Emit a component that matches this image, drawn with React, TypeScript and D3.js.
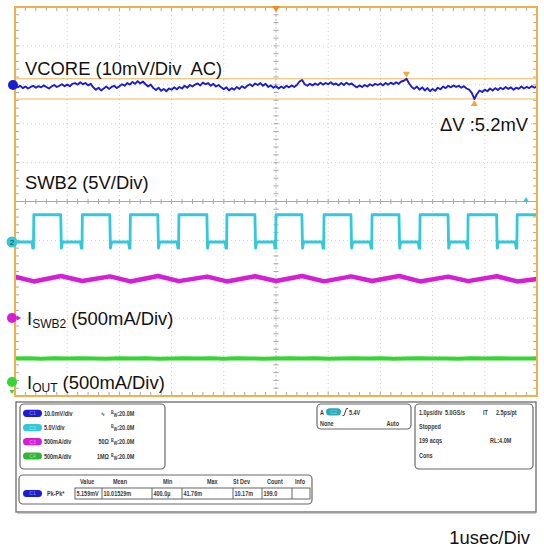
import React from "react";
import * as d3 from "d3";

const W = 544;
const H = 550;

// VCORE ripple (AC coupled, mV), one sample every 50 ns from -5 µs to +5 µs
const vcoreStep = 0.05;
const vcoreMv = [
  -0.3, -0.6, -0.2, -0.8, -0.4, -0.9, -0.5, -0.2, -0.7, -0.3,
  -0.6, -0.1, -0.5, -0.9, -0.4, 0.0, -0.5, -0.2, 0.2, -0.3,
  0.1, -0.3, 0.3, 0.5, 0.1, 0.7, 0.2, 0.5, -0.1, 0.3,
  -0.6, -1.2, -0.7, -1.4, -0.9, -0.4, -1.0, -0.5, -0.2, -0.8,
  -0.3, 0.2, -0.2, 0.5, 0.1, 0.8, 0.3, 1.0, 0.4, 0.9,
  0.2, -0.4, 0.1, -0.8, -1.3, -0.7, -1.5, -1.0, -1.6, -0.9,
  -1.2, -0.6, -1.1, -0.5, -0.9, -0.2, -0.7, 0.0, -0.4, 0.1,
  0.4, -0.1, 0.6, 0.2, 0.5, -0.2, 0.3, -0.4, 0.0, -0.6,
  -1.1, -0.6, -1.4, -0.8, -1.2, -0.5, -1.0, -0.3, -0.8, -0.2,
  0.2, -0.3, 0.4, 0.0, 0.5, -0.2, 0.3, -0.5, -0.1, -0.7,
  -0.3, -0.9, -0.4, -0.8, -0.2, -0.6, -0.1, -0.5, 0.0, 0.9,
  1.3, 0.2, -0.2, 0.3, -0.1, 0.4, 0.0, 0.6, 0.1, 0.5,
  0.2, 0.7, 0.1, 0.4, -0.1, 0.5, 0.0, 0.6, 0.1, 0.4,
  -0.2, -0.6, -0.1, -0.5, 0.0, -0.4, 0.2, -0.2, 0.3, 0.0,
  0.4, -0.1, 0.5, 0.1, 0.6, 0.2, 0.7, 0.3, 0.9, 1.1,
  1.6, 0.4, -0.5, -1.0, -0.4, -1.2, -0.6, -1.4, -0.8, -1.6,
  -1.0, -1.5, -0.7, -1.1, -0.4, -0.8, -0.2, -0.6, -0.1, -0.5,
  -0.2, -0.7, -0.3, -0.9, -1.2, -2.0, -3.6, -2.3, -1.4, -1.8,
  -1.2, -1.6, -0.9, -1.4, -0.8, -1.3, -0.7, -1.1, -0.5, -1.0,
  -0.6, -1.2, -0.7, -1.0, -0.4, -0.9, -0.5, -0.8, -0.3, -0.7,
  -0.4,
];

// SWB2 switch node: edge times (µs) and levels (V)
const swRise = [-4.64, -3.71, -2.79, -1.86, -0.94, 0.0, 0.92, 1.84, 2.76, 3.68, 4.62];
const swFall = [-4.12, -3.18, -2.26, -1.32, -0.4, 0.5, 1.44, 2.36, 3.3, 4.23];
const swHigh = 3.5;
const swLow = 0;
const swDip = -0.8;
const trigLevel = 5.4;

// ISWB2 inductor current (A): valleys at the rising edges, peaks at the falling edges
const iswStart = 0.53;
const iswEnd = 0.5;
const iswValley = [0.47, 0.475, 0.47, 0.474, 0.47, 0.475, 0.471, 0.475, 0.47, 0.474, 0.47];
const iswPeak = [0.54, 0.535, 0.54, 0.532, 0.536, 0.54, 0.535, 0.54, 0.532, 0.536];

// IOUT (A), one sample every 250 ns
const ioutStep = 0.25;
const ioutA = [
  0.302, 0.305, 0.3, 0.304, 0.301, 0.306, 0.302, 0.299, 0.304, 0.301,
  0.305, 0.3, 0.303, 0.306, 0.301, 0.304, 0.3, 0.305, 0.302, 0.299,
  0.303, 0.306, 0.301, 0.304, 0.3, 0.303, 0.305, 0.301, 0.304, 0.299,
  0.302, 0.305, 0.301, 0.303, 0.3, 0.304, 0.302, 0.306, 0.301, 0.303,
  0.302,
];

// Readout panel texts
const chanIds = ["C1", "C2", "C3", "C4"];
const chanScales = ["10.0mV/div", "5.0V/div", "500mA/div", "500mA/div"];
const chanTerm = ["", "", "50Ω", "1MΩ"];
const chanBw = ["20.0M", "20.0M", "20.0M", "20.0M"];
const measHeaders = ["Value", "Mean", "Min", "Max", "St Dev", "Count", "Info"];
const measValues = ["5.159mV", "10.01529m", "400.0µ", "41.76m", "10.17m", "199.0", ""];
const horizLines = [
  ["1.0µs/div", "5.0GS/s", "IT", "2.5ps/pt"],
  ["Stopped"],
  ["199 acqs", "RL:4.0M"],
  ["Cons"],
];

const C_BLUE = "#1c1cd2";
const C_CYAN = "#33c9d8";
const C_MAG = "#d41fd4";
const C_GREEN = "#33d633";
const C_ORANGE = "#f0b04c";
const C_CURSOR = "#f2a93c";
const SANS = "'Liberation Sans', Arial, Helvetica, sans-serif";

// Condensed bold readout text
function T(props: { x: number; y: number; anchor?: "start" | "end" | "middle"; size?: number; children?: React.ReactNode }) {
  const { x, y, anchor = "start", size = 7.3, children } = props;
  return (
    <text
      transform={`translate(${x},${y}) scale(0.75,1)`}
      textAnchor={anchor}
      fontFamily={SANS}
      fontSize={size}
      fontWeight={700}
      fill="#3a3a3a"
    >
      {children}
    </text>
  );
}

export default function App() {
  const left = 15;
  const right = 537;
  const top = 7;
  const bottom = 396;
  const x = d3.scaleLinear().domain([-5, 5]).range([left, right]);
  const divY = d3.scaleLinear().domain([-5, 5]).range([bottom, top]);
  const pxPerDiv = (bottom - top) / 10;
  const chan = (zeroY: number, perDiv: number) =>
    d3.scaleLinear().domain([0, perDiv]).range([zeroY, zeroY - pxPerDiv]);
  const y1 = chan(85, 10);
  const y2 = chan(242, 5);
  const y3 = chan(318, 0.5);
  const y4 = chan(382, 0.5);

  const line = (ys: d3.ScaleLinear<number, number>) =>
    d3
      .line<[number, number]>()
      .x((d) => x(d[0]))
      .y((d) => ys(d[1]));

  const vcorePts: [number, number][] = vcoreMv.map((v, i) => [-5 + i * vcoreStep, v]);
  const vMax = d3.max(vcoreMv) as number;
  const vMin = d3.min(vcoreMv) as number;
  const iMax = vcoreMv.indexOf(vMax);
  const iMin = vcoreMv.indexOf(vMin);
  const deltaV = (vMax - vMin).toFixed(1);

  const swPts: [number, number][] = [[-5, swLow]];
  swRise.forEach((tr, i) => {
    swPts.push([tr - 0.035, swLow], [tr - 0.018, swDip], [tr - 0.006, swDip], [tr, swHigh]);
    const tf = swFall[i];
    if (tf !== undefined) {
      swPts.push([tf - 0.004, swHigh], [tf + 0.008, swDip], [tf + 0.03, swLow]);
    } else {
      swPts.push([5, swHigh]);
    }
  });

  const iswPts: [number, number][] = [[-5, iswStart]];
  swRise.forEach((tr, i) => {
    iswPts.push([tr, iswValley[i]]);
    if (swFall[i] !== undefined) iswPts.push([swFall[i], iswPeak[i]]);
  });
  iswPts.push([5, iswEnd]);

  const ioutPts: [number, number][] = ioutA.map((v, i) => [-5 + i * ioutStep, v]);

  const minorX = d3.range(-5, 5.0001, 0.2);
  const minorY = d3.range(-5, 5.0001, 0.2);
  const majors = d3.range(-4, 5, 1);
  const cx = x(0);
  const cy = divY(0);

  const pill = (px: number, py: number, color: string, id: string, w = 19) => (
    <g>
      <rect x={px} y={py - 3.6} width={w} height={7.2} rx={3.6} fill={color} />
      <text x={px + w / 2} y={py + 1.8} textAnchor="middle" fontFamily={SANS} fontSize={5} fill="#ffffff" opacity={0.5}>
        {id}
      </text>
    </g>
  );

  const chanColors = [C_BLUE, C_CYAN, C_MAG, "#2fb82f"];
  const rowY = [413.3, 427.7, 441.7, 456];
  const cellEdges = [75, 102, 152, 182, 233, 262, 292, 310];
  const headX = [80, 113, 163, 207, 233, 267, 295];

  return (
    <svg width={W} height={H} style={{ position: "absolute", left: 0, top: 0, background: "#fff" }}>
      <rect width={W} height={H} fill="#fff" />

      {/* graticule dotted division lines */}
      <g stroke="#cfcfcf" strokeWidth={1} strokeDasharray="1 3">
        {majors.map((d) => (
          <line key={"v" + d} x1={x(d)} x2={x(d)} y1={top} y2={bottom} />
        ))}
        {majors.map((d) => (
          <line key={"h" + d} x1={left} x2={right} y1={divY(d)} y2={divY(d)} />
        ))}
      </g>
      {/* centre cross with minor ticks */}
      <g stroke="#a8a8a8" strokeWidth={1}>
        <line x1={left} x2={right} y1={cy} y2={cy} />
        <line x1={cx} x2={cx} y1={top} y2={bottom} stroke="#cfcfcf" strokeDasharray="2 2" />
        {minorX.map((t) => (
          <line key={"cx" + t} x1={x(t)} x2={x(t)} y1={cy - 2.5} y2={cy + 2.5} />
        ))}
        {minorY.map((t) => (
          <line key={"cy" + t} x1={cx - 2.5} x2={cx + 2.5} y1={divY(t)} y2={divY(t)} />
        ))}
        {minorX.map((t) => (
          <g key={"bx" + t}>
            <line x1={x(t)} x2={x(t)} y1={top} y2={top + 4} />
            <line x1={x(t)} x2={x(t)} y1={bottom} y2={bottom - 4} />
          </g>
        ))}
        {minorY.map((t) => (
          <g key={"by" + t}>
            <line x1={left} x2={left + 4} y1={divY(t)} y2={divY(t)} />
            <line x1={right} x2={right - 4} y1={divY(t)} y2={divY(t)} />
          </g>
        ))}
      </g>

      {/* VCORE peak-to-peak cursors */}
      <g stroke={C_CURSOR} strokeWidth={1} opacity={0.85}>
        <line x1={left} x2={right} y1={y1(vMax)} y2={y1(vMax)} />
        <line x1={left} x2={right} y1={y1(vMin)} y2={y1(vMin)} />
      </g>
      <path d={`M${x(-5 + iMax * vcoreStep) - 3.5},${y1(vMax) - 7} h7 l-3.5,6 z`} fill={C_CURSOR} />
      <path d={`M${x(-5 + iMin * vcoreStep) - 3.5},${y1(vMin) + 7} h7 l-3.5,-6 z`} fill={C_CURSOR} />

      {/* traces */}
      <path d={line(y4)(ioutPts) ?? ""} fill="none" stroke={C_GREEN} strokeWidth={4} strokeLinejoin="round" />
      <path d={line(y3)(iswPts) ?? ""} fill="none" stroke={C_MAG} strokeWidth={4.5} strokeLinejoin="round" />
      <path d={line(y2)(swPts) ?? ""} fill="none" stroke={C_CYAN} strokeWidth={2.8} strokeLinejoin="round" />
      <path d={line(y1)(vcorePts) ?? ""} fill="none" stroke={C_BLUE} strokeWidth={1.9} strokeLinejoin="round" />

      {/* frame */}
      <rect x={left} y={top} width={right - left} height={bottom - top} fill="none" stroke={C_ORANGE} strokeWidth={2} />
      <path d={`M${cx - 4},${top - 1} h8 l-4,6 z`} fill="#f08c1a" />
      <path d={`M${right - 14},${y2(trigLevel) + 2} l3,-5 l3,5 z`} fill={C_CYAN} />

      {/* channel ground markers */}
      <circle cx={13} cy={y1(0)} r={5} fill={C_BLUE} />
      <g>
        <ellipse cx={12} cy={y2(0)} rx={5.5} ry={5.5} fill={C_CYAN} />
        <text x={12} y={y2(0) + 3} textAnchor="middle" fontFamily={SANS} fontSize={8} fill="#0b4850">2</text>
      </g>
      <g>
        <ellipse cx={12} cy={y3(0)} rx={5} ry={5} fill={C_MAG} />
        <path d={`M17,${y3(0) - 2.5} l4,2.5 l-4,2.5 z`} fill={C_MAG} />
      </g>
      <g>
        <ellipse cx={12} cy={y4(0)} rx={5} ry={5} fill={C_GREEN} />
        <path d={`M9.5,${y4(0) + 8} h5 l-2.5,4 z`} fill={C_GREEN} />
      </g>

      {/* channel labels */}
      <g fontFamily={SANS} fontSize={18.4} fill="#111">
        <text x={25} y={75} style={{ whiteSpace: "pre" }}>VCORE (10mV/Div  AC)</text>
        <text x={528} y={131} textAnchor="end">ΔV :{deltaV}mV</text>
        <text x={25} y={189}>SWB2 (5V/Div)</text>
        <text x={27} y={325}>
          I<tspan fontSize={12} dy={3}>SWB2</tspan>
          <tspan dy={-3}> (500mA/Div)</tspan>
        </text>
        <text x={27} y={389}>
          I<tspan fontSize={12} dy={3}>OUT</tspan>
          <tspan dy={-3}> (500mA/Div)</tspan>
        </text>
        <text x={530} y={544} textAnchor="end">1usec/Div</text>
      </g>

      {/* readout panel */}
      <rect x={16} y={402} width={520} height={110} fill="#fff" stroke="#6a6a6a" strokeWidth={1.3} />
      <line x1={17} x2={536} y1={513} y2={513} stroke="#9a9a9a" strokeWidth={1} />

      <rect x={20} y={404} width={145} height={65} rx={4} fill="#fff" stroke="#6a6a6a" strokeWidth={1.2} />
      {chanIds.map((id, i) => (
        <g key={id}>
          {pill(23, rowY[i], chanColors[i], id)}
          <T x={44} y={rowY[i] + 2.7}>{chanScales[i]}</T>
          {chanTerm[i] && (
            <T x={109} y={rowY[i] + 2.7} anchor="end">{chanTerm[i]}</T>
          )}
          <T x={111} y={rowY[i] + 2.7}>
            <tspan fontSize={5} dy={-2}>B</tspan>
            <tspan fontSize={5} dy={3}>W</tspan>
            <tspan dy={-1}>:{chanBw[i]}</tspan>
          </T>
        </g>
      ))}
      <T x={101} y={rowY[0] + 2.5} size={6}>∿</T>

      <rect x={19} y={475} width={293} height={29} rx={4} fill="#fff" stroke="#6a6a6a" strokeWidth={1.2} />
      {measHeaders.map((h, i) => (
        <T key={h} x={headX[i]} y={484}>{h}</T>
      ))}
      {pill(23, 493.5, C_BLUE, "C1")}
      <T x={47} y={496.3}>Pk-Pk*</T>
      <rect x={cellEdges[0]} y={488} width={cellEdges[cellEdges.length - 1] - cellEdges[0]} height={11} fill="none" stroke="#555" strokeWidth={0.9} />
      {cellEdges.slice(1, -1).map((e) => (
        <line key={e} x1={e} x2={e} y1={488} y2={499} stroke="#555" strokeWidth={0.9} />
      ))}
      {measValues.map((v, i) => (
        <T key={i} x={cellEdges[i] + 1.5} y={496.3}>{v}</T>
      ))}

      <rect x={317} y={404} width={94} height={25} rx={4} fill="#fff" stroke="#6a6a6a" strokeWidth={1.2} />
      <T x={320} y={414.5}>A</T>
      {pill(326, 411.8, "#2aaab8", "C2", 15)}
      <path d="M342.5,415.5 h1.5 l2.5,-7 h1.5" fill="none" stroke="#333" strokeWidth={0.9} />
      <T x={349} y={414.5}>{trigLevel.toFixed(1)}V</T>
      <T x={320} y={426}>None</T>
      <T x={399} y={426} anchor="end">Auto</T>

      <rect x={415} y={404} width={118} height={65} rx={4} fill="#fff" stroke="#6a6a6a" strokeWidth={1.2} />
      <T x={419} y={414.5}>{horizLines[0][0]}</T>
      <T x={445} y={414.5}>{horizLines[0][1]}</T>
      <T x={483} y={414.5}>{horizLines[0][2]}</T>
      <T x={496} y={414.5}>{horizLines[0][3]}</T>
      <T x={419} y={428.7}>{horizLines[1][0]}</T>
      <T x={419} y={443}>{horizLines[2][0]}</T>
      <T x={490} y={443}>{horizLines[2][1]}</T>
      <T x={419} y={457.5}>{horizLines[3][0]}</T>
    </svg>
  );
}
